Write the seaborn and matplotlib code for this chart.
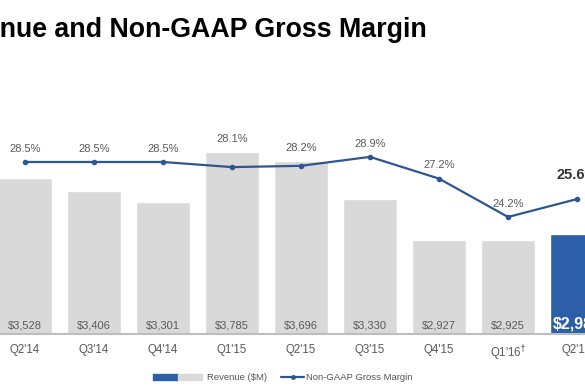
import numpy as np
import pandas as pd
import seaborn as sns
import matplotlib.pyplot as plt
from matplotlib.patches import Patch
from matplotlib.lines import Line2D
from matplotlib.legend_handler import HandlerTuple

quarters = ["Q2'14", "Q3'14", "Q4'14", "Q1'15", "Q2'15", "Q3'15", "Q4'15", "Q1'16", "Q2'16"]
tick_labels = ["Q2'14", "Q3'14", "Q4'14", "Q1'15", "Q2'15", "Q3'15", "Q4'15", "Q1'16$^{\\dagger}$", "Q2'16"]
revenue = [3528, 3406, 3301, 3785, 3696, 3330, 2927, 2925, 2985]
margin = [28.5, 28.5, 28.5, 28.1, 28.2, 28.9, 27.2, 24.2, 25.6]

grey = '#d9d9d9'
blue = '#2d5fa8'
line_blue = '#2f5593'
txt = '#595959'

sns.set_style('white')
plt.rcParams['font.family'] = ['Liberation Sans', 'DejaVu Sans']
plt.rcParams['mathtext.fontset'] = 'dejavusans'

df = pd.DataFrame({'quarter': quarters, 'revenue': revenue, 'margin': margin})
colors = [grey] * (len(quarters) - 1) + [blue]

fig = plt.figure(figsize=(5.85, 3.9), dpi=100)
ax = fig.add_axes([0, 56 / 390, 1, 274 / 390])

sns.barplot(data=df, x='quarter', y='revenue', hue='quarter', palette=colors,
            width=0.78, saturation=1, legend=False, ax=ax)
ax.set_xlim(-0.362, 8.116)
ax.set_ylim(2010, 4682)

ax2 = ax.twinx()
sns.lineplot(data=df, x='quarter', y='margin', ax=ax2, color=line_blue, lw=1.6,
             marker='o', markersize=4, markeredgewidth=0)
ax2.set_ylim(15.05, 36.475)
ax2.set_xlim(-0.362, 8.116)

for a in (ax, ax2):
    a.set_ylabel('')
    a.set_xlabel('')
    a.set_yticks([])
    for s in a.spines.values():
        s.set_visible(False)
ax.spines['bottom'].set_visible(True)
ax.spines['bottom'].set_color('#bdbdbd')
ax.spines['bottom'].set_linewidth(1.5)

ax.set_xticks(range(len(quarters)))
ax.set_xticklabels(tick_labels, fontsize=8.3, color=txt)
ax.tick_params(axis='x', length=0, pad=7)

# revenue values at the bottom of the bars
for i, v in enumerate(revenue):
    if i == len(revenue) - 1:
        ax.text(i, 2010 + 5.8 / 0.10256, f"${v:,}", ha='center', va='baseline',
                fontsize=11.5, fontweight='bold', color='white')
    else:
        ax.text(i, 2010 + 5.8 / 0.10256, f"${v:,}", ha='center', va='baseline',
                fontsize=8, color=txt)

# margin labels above the higher of point / bar top
for i, (m, v) in enumerate(zip(margin, revenue)):
    p = ax2.transData.transform((i, m))[1]
    b = ax.transData.transform((i, v))[1]
    top = max(p, b)
    if i == len(margin) - 1:
        ax2.annotate(f"{m}%", (i, m), xytext=(0, (top - p) * 0.72 + 17),
                     textcoords='offset points', ha='center', va='center',
                     fontsize=10.5, fontweight='bold', color='#333333')
    else:
        ax2.annotate(f"{m}%", (i, m), xytext=(0, (top - p) * 0.72 + 9.5),
                     textcoords='offset points', ha='center', va='center',
                     fontsize=8, color=txt)

fig.text(427 / 585, 1 - 37 / 390, "Revenue and Non-GAAP Gross Margin", ha='right',
         va='baseline', fontsize=19.3, fontweight='bold', color='black')

h1 = (Patch(color=blue), Patch(color=grey))
fig.legend([h1], ['Revenue ($M)'], loc='center', bbox_to_anchor=(210 / 585, 12 / 390),
           frameon=False, fontsize=6.8, labelcolor='#555555', handlelength=5.2,
           handleheight=0.5, handletextpad=0.5,
           handler_map={tuple: HandlerTuple(ndivide=None, pad=0)})
h2 = Line2D([], [], color=line_blue, lw=1.6, marker='o', markersize=2.5)
fig.legend([h2], ['Non-GAAP Gross Margin'], loc='center', bbox_to_anchor=(347 / 585, 12 / 390),
           frameon=False, fontsize=6.8, labelcolor='#555555', handlelength=2.4,
           handletextpad=0.2)

fig.savefig('out.png', dpi=100)
